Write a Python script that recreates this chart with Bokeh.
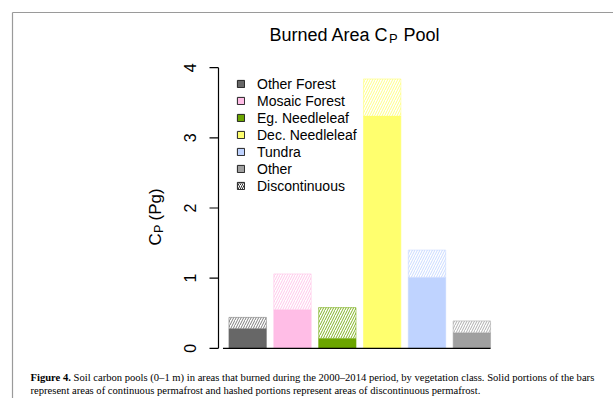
import numpy as np
from bokeh.plotting import figure
from bokeh.models import Legend, LegendItem, Range1d, ColumnDataSource
from bokeh.core.properties import value
from bokeh.embed import file_html
from bokeh.resources import INLINE

# Soil carbon pools (Pg) in burned areas, by vegetation class
classes = ["Other Forest", "Mosaic Forest", "Eg. Needleleaf",
           "Dec. Needleleaf", "Tundra", "Other"]
continuous = [0.28, 0.55, 0.14, 3.31, 1.01, 0.22]
discontinuous = [0.16, 0.51, 0.44, 0.53, 0.39, 0.17]
colors = ["#676767", "#FFBDE6", "#6BA500", "#FFFF6E", "#BFD3FF", "#A0A0A0"]
y_ticks = [0, 1, 2, 3, 4]
y_lim = (0, 4)

W, H = 613, 398
FL, FR, FT, FB = 218, 500.5, 56, 359   # plotting region on the page (px)

# barplot-style layout: width 1, gap 0.2, 4% padding around the data
n = len(classes)
centers = 0.7 + 1.2 * np.arange(n)
x_lo, x_hi = 0.2, 1.2 * n
xpad = 0.04 * (x_hi - x_lo)
ypad = 0.04 * (y_lim[1] - y_lim[0])

kx = (FR - FL) / ((x_hi + xpad) - (x_lo - xpad))
ky = (FB - FT) / ((y_lim[1] + ypad) - (y_lim[0] - ypad))
x_start = (x_lo - xpad) - FL / kx
y_end = (y_lim[1] + ypad) + FT / ky


def px(cx):
    return x_start + cx / kx


def py(cy):
    return y_end - cy / ky


p = figure(width=W, height=H, output_backend="svg", toolbar_location=None,
           x_axis_type=None, y_axis_type=None,
           x_range=Range1d(x_start, x_start + W / kx),
           y_range=Range1d(y_end - H / ky, y_end),
           min_border=0)
p.outline_line_color = None
p.background_fill_color = "white"
p.border_fill_color = "white"
p.xgrid.visible = False
p.ygrid.visible = False

total = [c + d for c, d in zip(continuous, discontinuous)]
src = ColumnDataSource(dict(x=centers, cont=continuous, tot=total, color=colors))

# solid part: continuous permafrost
p.vbar(x="x", width=1.0, bottom=0, top="cont", source=src,
       fill_color="color", line_color="color", line_alpha=0.6)
# hatched part: discontinuous permafrost
p.vbar(x="x", width=1.0, bottom="cont", top="tot", source=src,
       fill_color="white", line_color="color", line_alpha=0.5,
       hatch_pattern="/", hatch_color="color", hatch_scale=5,
       hatch_weight=1.0, hatch_alpha=0.85)

# baseline under the bars
p.segment(x0=[0.04], y0=[0], x1=[x_hi], y1=[0], line_color="black", line_width=1.3)

# y axis: line, ticks and rotated labels
p.segment(x0=[px(FL)], y0=[y_lim[0]], x1=[px(FL)], y1=[y_lim[1]],
          line_color="black", line_width=1.2)
p.segment(x0=[px(FL - 9)] * len(y_ticks), y0=y_ticks,
          x1=[px(FL)] * len(y_ticks), y1=y_ticks,
          line_color="black", line_width=1.2)
p.text(x=[px(189)] * len(y_ticks), y=y_ticks, text=[str(t) for t in y_ticks],
       angle=np.pi / 2, text_align="center", text_baseline="middle",
       text_font=value("Liberation Sans"), text_font_size="16px",
       text_color="black")

# legend (glyph-only renderers, nothing drawn in the plot itself)
items = []
for name, col in zip(classes, colors):
    r = p.vbar(x=[np.nan], width=1, top=[np.nan], fill_color=col,
               line_color="#222222")
    items.append(LegendItem(label=name, renderers=[r]))
r_hatch = p.vbar(x=[np.nan], width=1, top=[np.nan], fill_color="white",
                 line_color="#222222", hatch_pattern="/", hatch_color="#333333",
                 hatch_scale=4, hatch_weight=1)
items.append(LegendItem(label="Discontinuous", renderers=[r_hatch]))
leg = Legend(items=items, location=(236, H - 194),
             glyph_width=9, glyph_height=9, label_height=17, spacing=0,
             label_standoff=12, padding=0, margin=0,
             background_fill_alpha=0, border_line_color=None,
             label_text_font="Liberation Sans", label_text_font_size="14px",
             label_text_color="black")
p.add_layout(leg)


def put(text, cx, cy, size, angle=0.0, font="Liberation Sans", style="normal"):
    p.text(x=[px(cx)], y=[py(cy)], text=[text], angle=angle,
           text_align="left", text_baseline="middle",
           text_font=value(font), text_font_size=size,
           text_font_style=style, text_color="black")


# title with subscript
put("Burned Area C", 269, 34, "18px")
put("P", 388.5, 37.5, "13px")
put("Pool", 403, 34, "18px")

# y axis title with subscript, reading upward
put("C", 155, 245, "17px", angle=np.pi / 2)
put("P", 158, 232.5, "12.5px", angle=np.pi / 2)
put("(Pg)", 155, 220, "17px", angle=np.pi / 2)

# caption
put("Figure 4.", 30, 377, "10.6px", font="Liberation Serif", style="bold")
put("Soil carbon pools (0\u20131 m) in areas that burned during the 2000\u20132014 period, "
    "by vegetation class. Solid portions of the bars", 73, 377, "10.6px",
    font="Liberation Serif")
put("represent areas of continuous permafrost and hashed portions represent areas "
    "of discontinuous permafrost.", 30, 390, "10.6px", font="Liberation Serif")

# page frame lines along the top and left edges
p.segment(x0=[px(12), px(12)], y0=[py(12), py(12)],
          x1=[px(612.5), px(12)], y1=[py(12), py(397.5)],
          line_color="#9a9a9a", line_width=1.2)

open("out.html", "w").write(file_html(p, INLINE))
